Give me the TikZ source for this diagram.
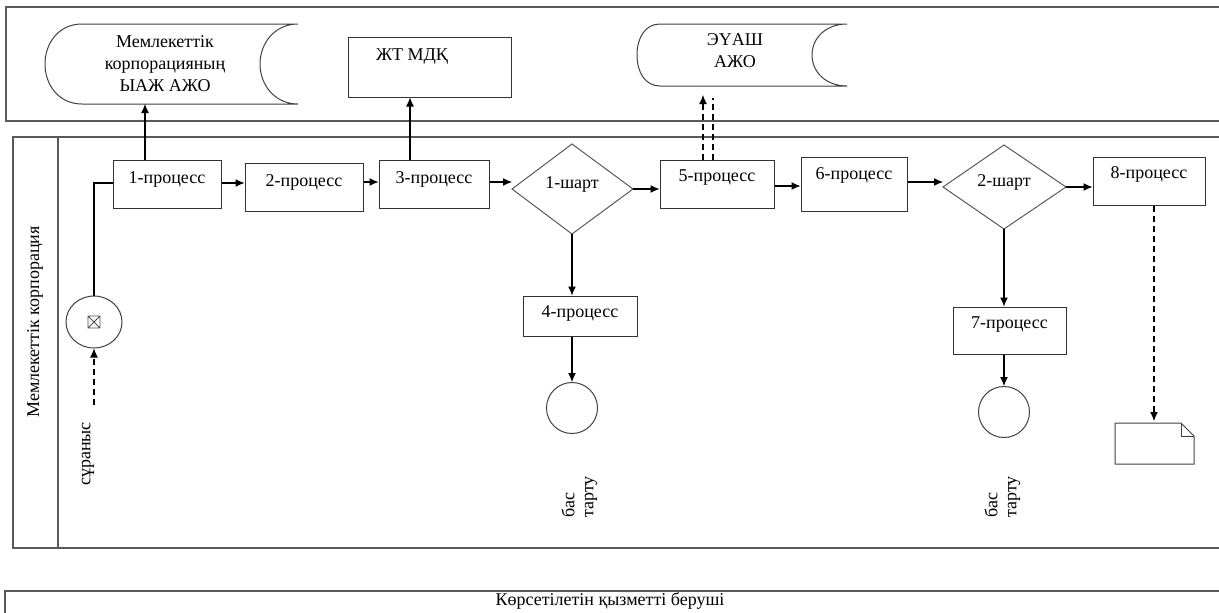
\documentclass[tikz,border=0pt]{standalone}
\usepackage{fontspec}
\setmainfont{Liberation Serif}
\usetikzlibrary{arrows.meta,shapes.geometric}
\begin{document}
\begin{tikzpicture}[x=1pt,y=-1pt,
  every node/.style={font=\rmfamily\fontsize{18}{22}\selectfont, inner sep=0pt},
  pool/.style={draw=black!65, line width=1.6pt},
  proc/.style={draw=black!80, line width=1pt, minimum width=#1, minimum height=48},
  proc/.default=108,
  dec/.style={draw=black!65, line width=1pt},
  shp/.style={draw=black!75, line width=1pt},
  flow/.style={draw=black, line width=1.1pt, -{Latex[length=9pt,width=8pt]}},
  msg/.style={draw=black, line width=1.1pt, dash pattern=on 6pt off 4pt, -{Latex[length=9pt,width=8pt]}},
  msgline/.style={draw=black, line width=1.1pt, dash pattern=on 6pt off 4pt},
  rot/.style={rotate=90, anchor=west},
]
\useasboundingbox (0,0) rectangle (1219,613);
\clip (0,0) rectangle (1219,613);
% pools
\draw[pool] (1230,7) -- (6,7) -- (6,121) -- (1230,121);
\draw[pool] (1230,137) -- (13,137) -- (13,548) -- (1230,548);
\draw[pool] (58,137) -- (58,548);
\draw[pool] (1230,591) -- (5,591) -- (5,620);
\node (provider) at (610,601) {Көрсетілетін қызметті беруші};
\node[rotate=90] (lane) at (35,322) {Мемлекеттік корпорация};

% storage 1
\draw[shp] (82,24) -- (298,24) .. controls (274,24) and (260,44) .. (260,64)
  .. controls (260,84) and (274,104) .. (298,104) -- (82,104)
  .. controls (58,104) and (45,84) .. (45,64) .. controls (45,44) and (58,24) .. (82,24) -- cycle;
\coordinate (s1b) at (145,104);
\node[align=center] (s1) at (165,64) {Мемлекеттік\\корпорацияның\\ЫАЖ АЖО};

% ЖТ МДҚ
\node[draw=black!80, line width=1pt, minimum width=163, minimum height=60] (jt) at (429.5,67) {};
\node (jtt) at (412,57) {ЖТ МДҚ};

% storage 2
\draw[shp] (660,24) -- (847,24) .. controls (826,24) and (812,38) .. (812,55)
  .. controls (812,72) and (826,86) .. (847,86) -- (660,86)
  .. controls (645,86) and (637,72) .. (637,55) .. controls (637,38) and (645,24) .. (660,24) -- cycle;
\node[align=center] (s2) at (735,51) {ЭҮАШ\\АЖО};
\coordinate (s2a) at (703,95);
\coordinate (s2b) at (713,98);

% processes
\node[proc] (p1) at (167,184) {};
\node (p1t) at (167,179) {1-процесс};
\node[proc=118] (p2) at (304,187) {};
\node (p2t) at (304,182) {2-процесс};
\node[proc=110] (p3) at (434,184) {};
\node (p3t) at (434,179) {3-процесс};
\draw[dec] (512,189) -- (572,144) -- (633,189) -- (572,234) -- cycle;
\coordinate (d1w) at (512,189); \coordinate (d1e) at (633,189); \coordinate (d1s) at (572,234);
\node (d1) at (572,184) {1-шарт};
\node[proc=114] (p5) at (717,184) {};
\node (p5t) at (717,178) {5-процесс};
\node[proc=106, minimum height=54] (p6) at (854,184) {};
\node (p6t) at (854,175) {6-процесс};
\draw[dec] (943,187) -- (1004,145) -- (1066,187) -- (1004,229) -- cycle;
\coordinate (d2w) at (943,187); \coordinate (d2e) at (1066,187); \coordinate (d2s) at (1004,229);
\node (d2) at (1004,182) {2-шарт};
\node[proc=112] (p8) at (1149,181) {};
\node (p8t) at (1149,174) {8-процесс};
\node[proc=114, minimum height=40] (p4) at (580,316) {};
\node (p4t) at (580,313) {4-процесс};
\node[proc=113, minimum height=47] (p7) at (1009.5,330.5) {};
\node (p7t) at (1009.5,325) {7-процесс};

% start event
\node[draw=black!75, line width=1pt, ellipse, minimum width=56, minimum height=52] (start) at (94,322) {};
\draw[black!70, line width=0.8pt] (88,316) rectangle (100,328) (88,316) -- (100,328) (88,328) -- (100,316);
\coordinate (req) at (94,405);
\node[rotate=90] (surt) at (88,454) {сұраныс};

% end events
\node[draw=black!75, line width=1pt, circle, minimum size=51] (e1) at (572,408) {};
\node[draw=black!75, line width=1pt, circle, minimum size=51] (e2) at (1004,412) {};
\node[rot] (r1a) at (568,518) {бас};
\node[rot] (r1b) at (591,518) {тарту};
\node[rot] (r2a) at (991,518) {бас};
\node[rot] (r2b) at (1014,518) {тарту};

% document
\draw[shp] (1115,423) -- (1181,423) -- (1194,436) -- (1194,464) -- (1115,464) -- cycle;
\draw[shp] (1181,423) -- (1181,436) -- (1194,436);
\coordinate (doc) at (1154,421);

% connectors
\draw[flow] (p1.north -| s1b) -- (s1b);
\draw[flow] (410,160) -- (jt.south -| 410,0);
\draw[line width=1.1pt] (start.north) -- (94,183) -- (p1.west |- 0,183);
\draw[msg] (req) -- (start.south);
\draw[flow] (p1.east |- 0,183) -- (p2.west |- 0,183);
\draw[flow] (p2.east |- 0,182) -- (p3.west |- 0,182);
\draw[flow] (p3.east |- 0,182) -- (d1w |- 0,182);
\draw[flow] (d1e) -- (p5.west |- d1e);
\draw[flow] (p5.east |- 0,186) -- (p6.west |- 0,186);
\draw[flow] (p6.east |- 0,182) -- (d2w |- 0,182);
\draw[flow] (d2e) -- (p8.west |- d2e);
\draw[msg] (p5.north -| s2a) -- (s2a);
\draw[msgline] (p5.north -| s2b) -- (s2b);
\draw[flow] (d1s) -- (p4.north -| d1s);
\draw[flow] (p4.south -| d1s) -- (e1.north);
\draw[flow] (d2s) -- (p7.north -| d2s);
\draw[flow] (p7.south -| d2s) -- (e2.north);
\draw[msg] (p8.south -| doc) -- (doc);
\end{tikzpicture}
\end{document}
